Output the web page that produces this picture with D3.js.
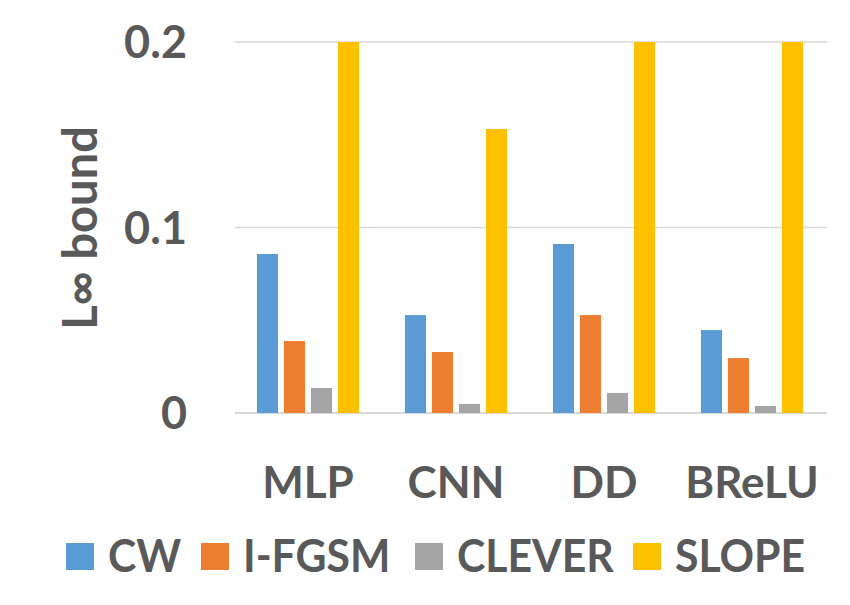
<!DOCTYPE html>
<html>
<head>
<meta charset="utf-8">
<script src="https://cdn.jsdelivr.net/npm/d3@7"></script>
<style>
  html, body { margin: 0; padding: 0; background: #fff; }
  svg text { font-family: "Lato", "Open Sans", sans-serif; font-weight: bold; fill: #595959; }
</style>
</head>
<body>
<svg id="chart" width="850" height="605"></svg>
<script>
const categories = ["MLP", "CNN", "DD", "BReLU"];
const seriesNames = ["CW", "I-FGSM", "CLEVER", "SLOPE"];
const cwValues     = [0.0857, 0.0528, 0.0911, 0.0447];
const ifgsmValues  = [0.0388, 0.0329, 0.0528, 0.0296];
const cleverValues = [0.0135, 0.0049, 0.0108, 0.0038];
const slopeValues  = [0.2,    0.1531, 0.2,    0.2];
const yTicks = [0, 0.1, 0.2];
const yTickLabels = ["0", "0.1", "0.2"];
const colors = ["#5b9bd5", "#ed7d31", "#a5a5a5", "#ffc000"];

const seriesValues = [cwValues, ifgsmValues, cleverValues, slopeValues];
const data = categories.map((c, i) => ({
  cat: c,
  vals: seriesNames.map((s, j) => ({ series: s, value: seriesValues[j][i], color: colors[j] }))
}));

const svg = d3.select("#chart");
const x0 = d3.scaleBand().domain(categories).range([234, 826]).paddingInner(0.31).paddingOuter(0.155);
const x1 = d3.scaleBand().domain(seriesNames).range([0, x0.bandwidth()]).paddingInner(0.22).paddingOuter(0);
const y = d3.scaleLinear().domain([0, 0.2]).range([413, 42]);

// gridlines
svg.append("g").selectAll("line").data(yTicks).join("line")
  .attr("x1", 235).attr("x2", 827)
  .attr("y1", d => y(d)).attr("y2", d => y(d))
  .attr("stroke", "#d9d9d9").attr("stroke-width", d => d === 0 ? 2 : 1.3);

// y tick labels
svg.append("g").selectAll("text").data(yTicks).join("text")
  .attr("x", 187).attr("y", d => y(d))
  .attr("dy", "0.36em")
  .attr("text-anchor", "end")
  .style("font-size", "45px")
  .text((d, i) => yTickLabels[i]);

// y-axis title
svg.append("text")
  .attr("transform", "translate(97,228) rotate(-90)")
  .attr("text-anchor", "middle")
  .style("font-size", "47px")
  .text("L∞ bound");

// bars
const groups = svg.append("g").selectAll("g").data(data).join("g")
  .attr("transform", d => `translate(${x0(d.cat)},0)`);
groups.selectAll("rect").data(d => d.vals).join("rect")
  .attr("x", d => x1(d.series))
  .attr("width", x1.bandwidth())
  .attr("y", d => y(d.value))
  .attr("height", d => y(0) - y(d.value))
  .attr("fill", d => d.color);

// x labels
svg.append("g").selectAll("text").data(categories).join("text")
  .attr("x", d => x0(d) + x0.bandwidth() / 2)
  .attr("y", 498)
  .attr("text-anchor", "middle")
  .style("font-size", "44px")
  .text(d => d);

// legend
const legendX = [66, 201, 415, 633];
const legend = svg.append("g").selectAll("g").data(seriesNames).join("g")
  .attr("transform", (d, i) => `translate(${legendX[i]},543)`);
legend.append("rect").attr("width", 28).attr("height", 27).attr("fill", (d, i) => colors[i]);
legend.append("text").attr("x", 42).attr("y", 29)
  .style("font-size", "45px")
  .text(d => d)
  .each(function () {
    const w = this.getComputedTextLength();
    d3.select(this).attr("textLength", w * 0.95).attr("lengthAdjust", "spacingAndGlyphs");
  });
</script>
</body>
</html>
